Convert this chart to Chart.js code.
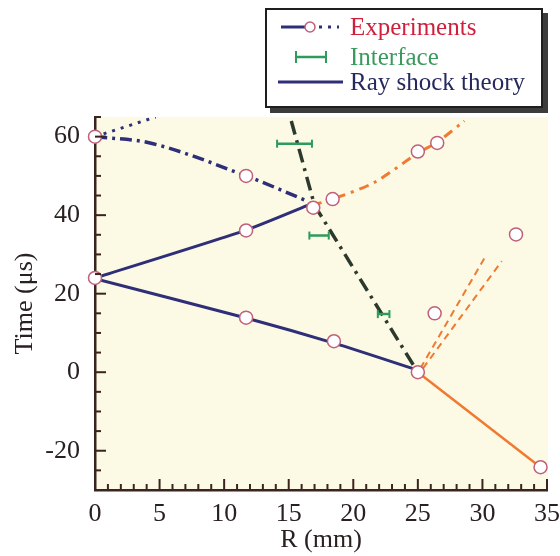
<!DOCTYPE html>
<html><head><meta charset="utf-8">
<script src="https://cdn.jsdelivr.net/npm/chart.js@4"></script>
<style>
html,body{margin:0;padding:0;background:#fff;}
#wrap{position:relative;width:560px;height:556px;}
#c{position:absolute;left:0;top:0;}
#legend{position:absolute;left:265px;top:8px;width:274px;height:96px;border:2px solid #1e1e1e;background:#fff;box-shadow:5px 5px 0 #3c3c3c;font-family:"Liberation Serif",serif;font-size:25px;}
.row{position:absolute;left:0;width:270px;height:28px;line-height:28px;}
.row span{position:absolute;left:83px;top:0;white-space:nowrap;}
.row svg{position:absolute;left:0;top:0;}
</style></head>
<body>
<div id="wrap">
<canvas id="c" width="560" height="556"></canvas>
<div id="legend">
  <div class="row" style="top:3px">
    <svg width="80" height="28"><line x1="14" y1="14" x2="38" y2="14" stroke="#2e2f78" stroke-width="3"/><circle cx="43" cy="14" r="5" fill="#fff" stroke="#c0607a" stroke-width="1.5"/><line x1="52" y1="14" x2="72" y2="14" stroke="#2e2f78" stroke-width="3" stroke-dasharray="3 6"/></svg>
    <span style="color:#cf1f3c">Experiments</span>
  </div>
  <div class="row" style="top:33px">
    <svg width="80" height="28"><line x1="28" y1="14" x2="60" y2="14" stroke="#2e9a5c" stroke-width="2.5"/><line x1="29" y1="8" x2="29" y2="20" stroke="#2e9a5c" stroke-width="2"/><line x1="59" y1="8" x2="59" y2="20" stroke="#2e9a5c" stroke-width="2"/></svg>
    <span style="color:#3a9a5e">Interface</span>
  </div>
  <div class="row" style="top:58px">
    <svg width="80" height="28"><line x1="11" y1="14" x2="76" y2="14" stroke="#2e2f78" stroke-width="3"/></svg>
    <span style="color:#26285e">Ray shock theory</span>
  </div>
</div>
</div>
<script>
// Experiments (open circles)
const expR = [0, 0, 11.7, 11.7, 11.7, 16.9, 18.4, 18.5, 25, 25, 26.5, 26.3, 32.6, 34.5];
const expT = [60, 24, 50, 36.1, 13.9, 41.9, 44.1, 7.9, 0, 56.2, 58.4, 15, 35.1, -24.2];
// Ray shock theory, solid navy
const rayUpR = [0, 11.7, 16.7];
const rayUpT = [24, 36.2, 42.8];
const rayDownR = [0, 11.7, 18.5, 25];
const rayDownT = [23.8, 13.8, 7.4, 0.5];
// navy dash-dot
const navyDashR = [0, 4.5, 11.7, 16.5];
const navyDashT = [60, 58.2, 50, 43.5];
// navy dotted going up
const navyDotR = [0, 4.7];
const navyDotT = [60, 65];
// interface trajectory (dark dash-dot)
const ifLineR = [15.2, 17, 25];
const ifLineT = [64, 42.5, 0];
// orange dash-dot upper
const orUpR = [16.8, 18.4, 21.6, 25, 26.5, 28.6];
const orUpT = [42.5, 44.1, 48.3, 55.8, 58.6, 64];
// orange solid lower
const orLowR = [25, 34.5];
const orLowT = [0, -24.2];
// orange dashed pair
const orDashAR = [25.2, 30.2];
const orDashAT = [1, 29.3];
const orDashBR = [25.4, 31.5];
const orDashBT = [1, 28.3];
// interface error bars
const ifaceT = [58.2, 34.8, 14.8];
const ifaceLo = [14.1, 16.6, 21.9];
const ifaceHi = [16.8, 18.1, 22.8];
// tick labels
const xTickLabels = [0, 5, 10, 15, 20, 25, 30, 35];
const yTickLabels = [-20, 0, 20, 40, 60];

const pts = (r, t) => r.map((v, i) => ({x: v, y: t[i]}));
const errData = [];
ifaceT.forEach((t, i) => { errData.push({x: ifaceLo[i], y: t}, {x: ifaceHi[i], y: t}, {x: ifaceHi[i], y: null}); });

const navy = '#2e2f78', orange = '#f07a32', dark = '#2c3a2e', green = '#2e9a5c', axisC = '#3a2420';
const line = (data, color, width, dash, tension) => ({type: 'scatter', data, showLine: true, borderColor: color, borderWidth: width, borderDash: dash || [], pointRadius: 0, pointHoverRadius: 0, fill: false, tension: tension || 0});

const bgPlugin = {
  id: 'bg',
  beforeDraw(chart) {
    const {ctx, chartArea: a} = chart;
    ctx.save(); ctx.fillStyle = '#fcfae4'; ctx.fillRect(a.left, a.top, a.right - a.left + 1, a.bottom - a.top); ctx.restore();
  },
  afterDraw(chart) {
    const {ctx, chartArea: a, scales: {x, y}} = chart;
    ctx.save(); ctx.strokeStyle = axisC; ctx.lineWidth = 2;
    x.ticks.forEach(t => {
      const px = x.getPixelForValue(t.value);
      const major = xTickLabels.includes(t.value);
      ctx.beginPath(); ctx.moveTo(px, a.bottom); ctx.lineTo(px, a.bottom - (major ? 11 : 6)); ctx.stroke();
    });
    y.ticks.forEach(t => {
      const py = y.getPixelForValue(t.value);
      const major = yTickLabels.includes(t.value);
      ctx.beginPath(); ctx.moveTo(a.left, py); ctx.lineTo(a.left + (major ? 11 : 6), py); ctx.stroke();
    });
    ctx.restore();
  }
};

const font = {family: '"Liberation Serif", serif', size: 26};
new Chart(document.getElementById('c'), {
  type: 'scatter',
  data: {datasets: [
    {type: 'scatter', data: pts(expR, expT), pointStyle: 'circle', pointRadius: 6.5, pointBorderWidth: 1.5, pointBorderColor: '#c0607a', pointBackgroundColor: '#fff', showLine: false, clip: false},
    Object.assign(line(errData, green, 2.5), {pointStyle: 'line', pointRotation: 90, pointRadius: 4, pointBorderColor: green, pointBorderWidth: 2, spanGaps: false}),
    line(pts(rayUpR, rayUpT), navy, 3, null, 0.2),
    line(pts(rayDownR, rayDownT), navy, 3, null, 0.3),
    line(pts(navyDashR, navyDashT), navy, 3.5, [12, 5, 3, 5], 0.35),
    line(pts(navyDotR, navyDotT), navy, 3, [3, 6]),
    line(pts(ifLineR, ifLineT), dark, 3.5, [14, 6, 3, 6]),
    line(pts(orUpR, orUpT), orange, 3, [10, 6, 3, 6], 0.3),
    line(pts(orLowR, orLowT), orange, 2.5),
    line(pts(orDashAR, orDashAT), orange, 2, [7, 5]),
    line(pts(orDashBR, orDashBT), orange, 2, [7, 5])
  ]},
  options: {
    responsive: false, animation: false, devicePixelRatio: 1,
    layout: {padding: {top: 117, right: 13, left: 0, bottom: 0}},
    plugins: {legend: {display: false}, tooltip: {enabled: false}},
    scales: {
      x: {type: 'linear', min: 0, max: 35,
        afterFit(s) { s.height = 66; s.paddingLeft = 0; s.paddingRight = 0; },
        grid: {display: false, drawTicks: false},
        border: {display: true, color: axisC, width: 2.5},
        ticks: {stepSize: 1, autoSkip: false, maxRotation: 0, padding: 9, color: '#2a2020', font,
          callback: v => xTickLabels.includes(v) ? String(v) : ''},
        title: {display: true, text: 'R (mm)', color: '#2a2020', font, padding: 0}
      },
      y: {type: 'linear', min: -30, max: 65,
        afterFit(s) { s.width = 95; s.paddingTop = 0; s.paddingBottom = 0; },
        grid: {display: false, drawTicks: false},
        border: {display: true, color: axisC, width: 2.5},
        ticks: {stepSize: 5, autoSkip: false, padding: 15, color: '#2a2020', font,
          callback: v => yTickLabels.includes(v) ? String(v) : ''},
        title: {display: true, text: 'Time (μs)', color: '#2a2020', font, padding: {top: 10, bottom: 0}}
      }
    }
  },
  plugins: [bgPlugin]
});
</script>
</body></html>
